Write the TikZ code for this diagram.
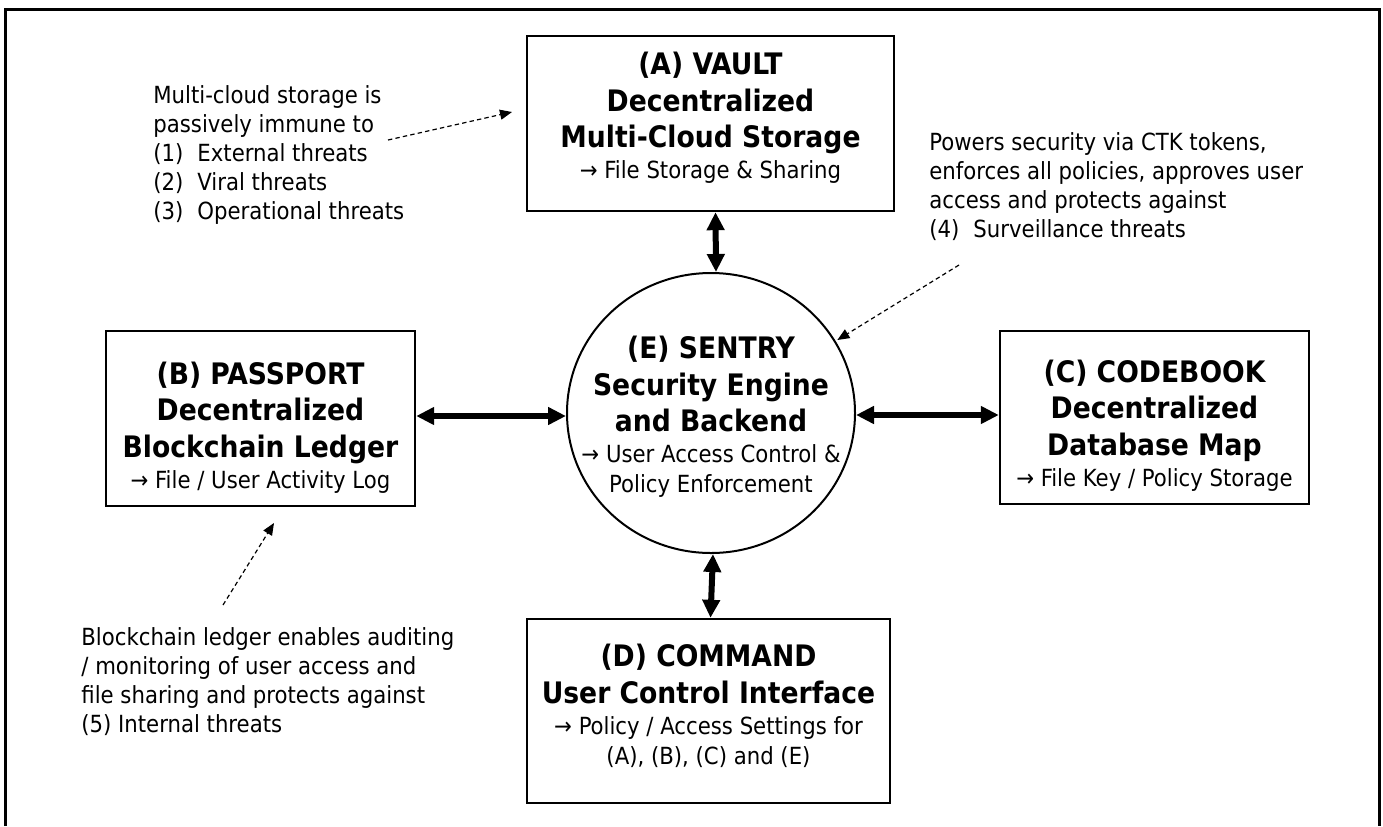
\documentclass[tikz,border=0pt]{standalone}
\usepackage{fontspec}
\setmainfont{DejaVu Sans Condensed}
\usetikzlibrary{arrows.meta,shapes.geometric}
\newcommand\ttl{\fontsize{14.8}{18.5}\selectfont\bfseries}
\newcommand\sub{\fontsize{11.8}{15}\selectfont\mdseries}
\newcommand\nte{\fontsize{11.8}{14.5}\selectfont\mdseries}
\tikzset{
  blk/.style={draw,line width=1.2pt,rectangle,inner sep=0pt},
  txt/.style={align=center,font=\sub,inner sep=0pt},
  big/.style={line width=3pt,{Triangle[length=9pt,width=8.5pt]}-{Triangle[length=9pt,width=8.5pt]}},
  note/.style={align=left,font=\nte,inner sep=0pt},
  dsh/.style={line width=0.6pt,dash pattern=on 2.2pt off 1.6pt,-{Triangle[length=6pt,width=5pt]}}
}
\begin{document}
\begin{tikzpicture}[x=0.5pt,y=-0.5pt]
\useasboundingbox (0,0) rectangle (1383,826);
\draw[line width=1.5pt] (5,826) -- (5,9) -- (1379,9) -- (1379,826);

\node[blk,minimum width=183.5pt,minimum height=87.5pt] (A) at (710.5,123.5) {};
\node[blk,minimum width=154.5pt,minimum height=87.5pt] (B) at (260.5,418.5) {};
\node[blk,minimum width=154.5pt,minimum height=86.5pt] (C) at (1154.5,417.5) {};
\node[blk,minimum width=181.5pt,minimum height=92pt] (D) at (708.5,711) {};
\node[draw,line width=1pt,ellipse,inner sep=0pt,minimum width=144pt,minimum height=140pt] (E) at (711,413) {};

\node[txt] (At) at (710.5,118)
  {\ttl (A) VAULT\\[3.25pt] \ttl Decentralized\\[3.25pt] \ttl Multi-Cloud Storage\\[0.5pt] \sub → File Storage \& Sharing};
\node[txt] (Bt) at (260.5,427.5)
  {\ttl (B) PASSPORT\\[3.25pt] \ttl Decentralized\\[3.25pt] \ttl Blockchain Ledger\\[0.5pt] \sub → File / User Activity Log};
\node[txt] (Ct) at (1154.5,425.5)
  {\ttl (C) CODEBOOK\\[3.25pt] \ttl Decentralized\\[3.25pt] \ttl Database Map\\[0.5pt] \sub → File Key / Policy Storage};
\node[txt] (Dt) at (708.5,706)
  {\ttl (D) COMMAND\\[3.25pt] \ttl User Control Interface\\[0.5pt] \sub → Policy / Access Settings for\\ \sub (A), (B), (C) and (E)};
\node[txt] (Et) at (711,417)
  {\ttl (E) SENTRY\\[3.25pt] \ttl Security Engine\\[3.25pt] \ttl and Backend\\[0.5pt] \sub → User Access Control \&\\ \sub Policy Enforcement};

\draw[big] ([xshift=2.5pt]A.south) -- ([xshift=2.5pt]E.north);
\draw[big] ([xshift=1pt]E.south) -- ([xshift=1pt]D.north);
\draw[big] ([yshift=1.25pt]B.east) -- ([yshift=1.25pt]B.east -| E.west);
\draw[big] ([yshift=1.25pt]C.west -| E.east) -- ([yshift=1.25pt]C.west);

\node[note,anchor=north west] (n1) at (153,85)
  {Multi-cloud storage is\\ passively immune to\\ (1)\hspace{7pt}External threats\\ (2)\hspace{7pt}Viral threats\\ (3)\hspace{7pt}Operational threats};
\node[note,anchor=north west] (n2) at (929,132)
  {Powers security via CTK tokens,\\ enforces all policies, approves user\\ access and protects against\\ (4)\hspace{7pt}Surveillance threats};
\node[note,anchor=north west] (n3) at (81,627)
  {Blockchain ledger enables auditing\\ / monitoring of user access and\\ file sharing and protects against\\ (5) Internal threats};

\coordinate (a1) at (388,140);
\coordinate (a2) at (512,112);
\coordinate (e1) at (959,265);
\coordinate (b1) at (223,605);
\coordinate (b2) at (274,523);
\draw[dsh] (a1) -- (a2);
\draw[dsh,shorten >=1pt] (e1) -- (E.30);
\draw[dsh] (b1) -- (b2);
\end{tikzpicture}
\end{document}
